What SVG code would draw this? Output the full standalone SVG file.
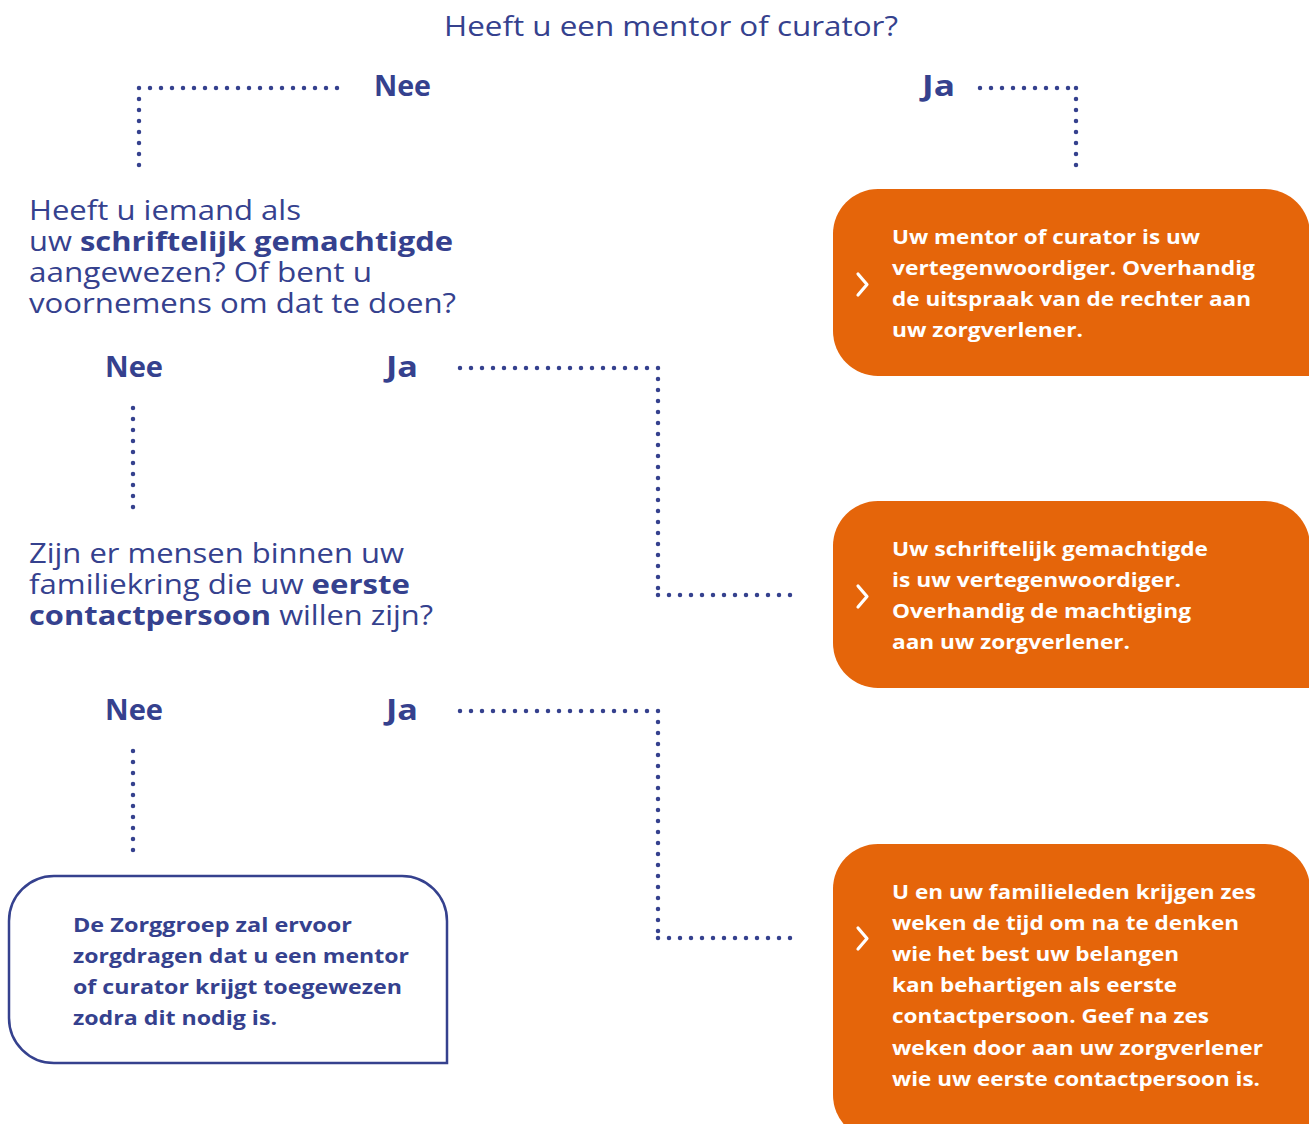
<svg xmlns="http://www.w3.org/2000/svg" width="1309" height="1124" viewBox="0 0 1309 1124">
<style>
text{font-family:"Open Sans","Noto Sans","Liberation Sans",sans-serif}
.q{font-size:27px;fill:#35418e}
.b{font-weight:700}
.lbl{font-size:28px;font-weight:700;fill:#35418e}
.w{fill:#fff;font-weight:700;font-size:20px}
.n{fill:#35418e;font-weight:700;font-size:20px}
.dot{fill:none;stroke:#35418e;stroke-width:4.5;stroke-linecap:round;stroke-dasharray:0 11}
.or{fill:#e5650a}
.chev{fill:none;stroke:#fff;stroke-width:3.2;stroke-linecap:round;stroke-linejoin:round}
</style>
<rect width="1309" height="1124" fill="#fff"/>

<g id="connectors">
<line class="dot" x1="337" y1="88" x2="139" y2="88"/>
<line class="dot" x1="139" y1="88" x2="139" y2="168"/>
<line class="dot" x1="980" y1="88" x2="1076" y2="88"/>
<line class="dot" x1="1076" y1="88" x2="1076" y2="170"/>
<line class="dot" x1="460" y1="368" x2="658" y2="368"/>
<line class="dot" x1="658" y1="368" x2="658" y2="595"/>
<line class="dot" x1="658" y1="595" x2="793" y2="595"/>
<line class="dot" x1="133" y1="408" x2="133" y2="508"/>
<line class="dot" x1="460" y1="711" x2="658" y2="711"/>
<line class="dot" x1="658" y1="711" x2="658" y2="938"/>
<line class="dot" x1="658" y1="938" x2="793" y2="938"/>
<line class="dot" x1="133" y1="751" x2="133" y2="852"/>
</g>

<g id="title">
<text class="q" x="444" y="36" textLength="454" lengthAdjust="spacingAndGlyphs">Heeft u een mentor of curator?</text>
</g>
<g id="labels-top">
<text class="lbl" x="374" y="96" textLength="57" lengthAdjust="spacingAndGlyphs">Nee</text>
<text class="lbl" x="922" y="96" textLength="33" lengthAdjust="spacingAndGlyphs">Ja</text>
</g>

<g id="question1">
<text class="q" x="29" y="220" textLength="272" lengthAdjust="spacingAndGlyphs">Heeft u iemand als</text>
<text class="q" x="29" y="251" textLength="424" lengthAdjust="spacingAndGlyphs">uw <tspan class="b">schriftelijk gemachtigde</tspan></text>
<text class="q" x="29" y="282" textLength="343" lengthAdjust="spacingAndGlyphs">aangewezen? Of bent u</text>
<text class="q" x="29" y="313" textLength="427" lengthAdjust="spacingAndGlyphs">voornemens om dat te doen?</text>
</g>
<g id="labels-q1">
<text class="lbl" x="105" y="377" textLength="58" lengthAdjust="spacingAndGlyphs">Nee</text>
<text class="lbl" x="386" y="377" textLength="32" lengthAdjust="spacingAndGlyphs">Ja</text>
</g>

<g id="question2">
<text class="q" x="29" y="563" textLength="375" lengthAdjust="spacingAndGlyphs">Zijn er mensen binnen uw</text>
<text class="q" x="29" y="594" textLength="381" lengthAdjust="spacingAndGlyphs">familiekring die uw <tspan class="b">eerste</tspan></text>
<text class="q" x="29" y="625" textLength="404" lengthAdjust="spacingAndGlyphs"><tspan class="b">contactpersoon</tspan> willen zijn?</text>
</g>
<g id="labels-q2">
<text class="lbl" x="105" y="720" textLength="58" lengthAdjust="spacingAndGlyphs">Nee</text>
<text class="lbl" x="386" y="720" textLength="32" lengthAdjust="spacingAndGlyphs">Ja</text>
</g>

<g id="box-mentor">
<path class="or" d="M833,234 A45,45 0 0 1 878,189 L1265,189 A45,45 0 0 1 1310,234 L1310,376 L878,376 A45,45 0 0 1 833,331 Z"/>
<polyline class="chev" points="858,274 867,284.5 858,295"/>
<text class="w" x="892" y="244" textLength="308" lengthAdjust="spacingAndGlyphs">Uw mentor of curator is uw</text>
<text class="w" x="892" y="275" textLength="363" lengthAdjust="spacingAndGlyphs">vertegenwoordiger. Overhandig</text>
<text class="w" x="892" y="306" textLength="359" lengthAdjust="spacingAndGlyphs">de uitspraak van de rechter aan</text>
<text class="w" x="892" y="337" textLength="191" lengthAdjust="spacingAndGlyphs">uw zorgverlener.</text>
</g>

<g id="box-gemachtigde">
<path class="or" d="M833,546 A45,45 0 0 1 878,501 L1265,501 A45,45 0 0 1 1310,546 L1310,688 L878,688 A45,45 0 0 1 833,643 Z"/>
<polyline class="chev" points="858,586 867,596.5 858,607"/>
<text class="w" x="892" y="556" textLength="316" lengthAdjust="spacingAndGlyphs">Uw schriftelijk gemachtigde</text>
<text class="w" x="892" y="587" textLength="289" lengthAdjust="spacingAndGlyphs">is uw vertegenwoordiger.</text>
<text class="w" x="892" y="618" textLength="299" lengthAdjust="spacingAndGlyphs">Overhandig de machtiging</text>
<text class="w" x="892" y="649" textLength="238" lengthAdjust="spacingAndGlyphs">aan uw zorgverlener.</text>
</g>

<g id="box-familie">
<path class="or" d="M833,889 A45,45 0 0 1 878,844 L1265,844 A45,45 0 0 1 1310,889 L1310,1140 L878,1140 A45,45 0 0 1 833,1095 Z"/>
<polyline class="chev" points="858,928 867,938.5 858,949"/>
<text class="w" x="892" y="899" textLength="364" lengthAdjust="spacingAndGlyphs">U en uw familieleden krijgen zes</text>
<text class="w" x="892" y="930" textLength="347" lengthAdjust="spacingAndGlyphs">weken de tijd om na te denken</text>
<text class="w" x="892" y="961" textLength="287" lengthAdjust="spacingAndGlyphs">wie het best uw belangen</text>
<text class="w" x="892" y="992" textLength="285" lengthAdjust="spacingAndGlyphs">kan behartigen als eerste</text>
<text class="w" x="892" y="1023" textLength="317" lengthAdjust="spacingAndGlyphs">contactpersoon. Geef na zes</text>
<text class="w" x="892" y="1055" textLength="371" lengthAdjust="spacingAndGlyphs">weken door aan uw zorgverlener</text>
<text class="w" x="892" y="1086" textLength="368" lengthAdjust="spacingAndGlyphs">wie uw eerste contactpersoon is.</text>
</g>

<g id="box-zorggroep">
<path d="M9,921 A45,45 0 0 1 54,876 L402,876 A45,45 0 0 1 447,921 L447,1063 L54,1063 A45,45 0 0 1 9,1018 Z" fill="#fff" stroke="#35418e" stroke-width="2.5"/>
<text class="n" x="73" y="932" textLength="279" lengthAdjust="spacingAndGlyphs">De Zorggroep zal ervoor</text>
<text class="n" x="73" y="963" textLength="336" lengthAdjust="spacingAndGlyphs">zorgdragen dat u een mentor</text>
<text class="n" x="73" y="994" textLength="329" lengthAdjust="spacingAndGlyphs">of curator krijgt toegewezen</text>
<text class="n" x="73" y="1025" textLength="204" lengthAdjust="spacingAndGlyphs">zodra dit nodig is.</text>
</g>
</svg>
